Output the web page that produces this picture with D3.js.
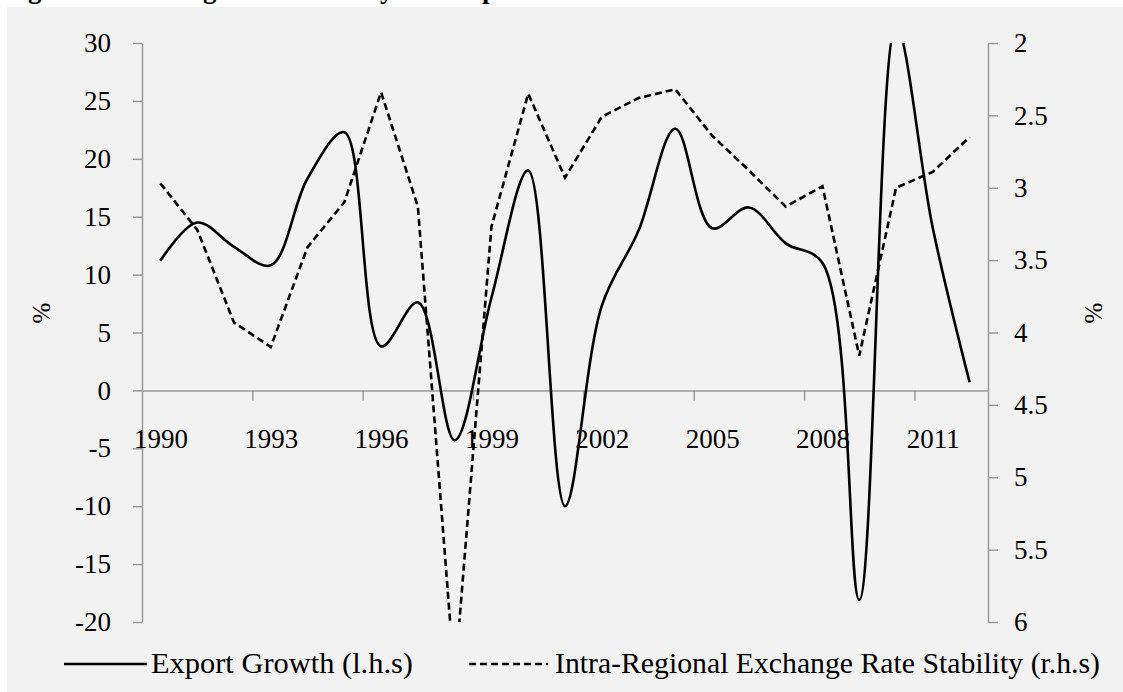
<!DOCTYPE html>
<html>
<head>
<meta charset="utf-8">
<script src="https://cdn.jsdelivr.net/npm/d3@7"></script>
<style>
  body { margin: 0; background: #fff; }
  text { font-family: "Liberation Serif", "Times New Roman", serif; fill: #000; }
</style>
</head>
<body>
<script>
// data
var years = [1990, 1991, 1992, 1993, 1994, 1995, 1996, 1997, 1998, 1999, 2000, 2001,
             2002, 2003, 2004, 2005, 2006, 2007, 2008, 2009, 2010, 2011, 2012];
var exportGrowth = [11.2, 14.5, 12.4, 10.8, 18.3, 22.3, 3.8, 7.6, -4.3, 8.0, 19.0, -10.0,
                    7.3, 13.8, 22.6, 14.0, 15.8, 12.7, 11.0, -18.1, 31.5, 14.0, 0.7];
var stability = [2.97, 3.29, 3.93, 4.10, 3.41, 3.10, 2.34, 3.13, 6.4, 3.27, 2.35, 2.93,
                 2.51, 2.38, 2.32, 2.64, 2.88, 3.13, 2.99, 4.16, 3.00, 2.89, 2.65];
var leftTicks = [-20, -15, -10, -5, 0, 5, 10, 15, 20, 25, 30];
var rightTicks = [2, 2.5, 3, 3.5, 4, 4.5, 5, 5.5, 6];
var labelYears = [1990, 1993, 1996, 1999, 2002, 2005, 2008, 2011];

var width = 1123, height = 692;
var plotLeft = 142, plotRight = 988, plotTop = 43, plotBottom = 622;
var axisColor = "#9a9a9a";

var svg = d3.select("body").append("svg")
  .attr("width", width)
  .attr("height", height);

// title, mostly cut off at the top
svg.append("text")
  .attr("x", 4)
  .attr("y", -2)
  .style("font-size", "27px")
  .style("font-weight", "bold")
  .text("Figure 1: Exchange Rate Stability and Export Growth");

svg.append("rect")
  .attr("x", 7).attr("y", 7)
  .attr("width", width - 7).attr("height", height - 7)
  .attr("fill", "#f2f2f2");

var x = d3.scaleLinear().domain([1989.5, 2012.5]).range([plotLeft, plotRight]);
var yL = d3.scaleLinear().domain([-20, 30]).range([plotBottom, plotTop]);
var yR = d3.scaleLinear().domain([2, 6]).range([plotTop, plotBottom]);

var plain = function(d){ return String(d); };

// left axis
var gL = svg.append("g")
  .attr("transform", "translate(" + plotLeft + ",0)")
  .call(d3.axisLeft(yL).tickValues(leftTicks).tickSize(9).tickSizeOuter(0).tickPadding(22)
        .tickFormat(plain));

// right axis
var gR = svg.append("g")
  .attr("transform", "translate(" + plotRight + ",0)")
  .call(d3.axisRight(yR).tickValues(rightTicks).tickSize(10).tickSizeOuter(0).tickPadding(16)
        .tickFormat(plain));

// x axis at zero: tick marks between categories, labels on categories
var gXt = svg.append("g")
  .attr("transform", "translate(0," + yL(0) + ")")
  .call(d3.axisBottom(x)
        .tickValues(labelYears.slice(1).map(function(d){ return d - 0.5; }))
        .tickSize(10).tickSizeOuter(0).tickFormat(""));

var gXl = svg.append("g")
  .attr("transform", "translate(0," + yL(0) + ")")
  .call(d3.axisBottom(x).tickValues(labelYears).tickSize(0).tickPadding(38)
        .tickFormat(plain));
gXl.select(".domain").remove();

[gL, gR, gXt].forEach(function(g){
  g.select(".domain").attr("stroke", axisColor).attr("stroke-width", 1.5);
  g.selectAll(".tick line").attr("stroke", axisColor).attr("stroke-width", 1.5);
});
[gL, gR, gXl].forEach(function(g){
  g.selectAll("text")
    .style("font-size", "27px")
    .style("font-family", "'Liberation Serif', serif")
    .attr("fill", "#000");
});

// axis titles
svg.append("text")
  .attr("transform", "translate(50,313) rotate(-90)")
  .attr("text-anchor", "middle")
  .style("font-size", "25px")
  .text("%");
svg.append("text")
  .attr("transform", "translate(1102,313) rotate(-90)")
  .attr("text-anchor", "middle")
  .style("font-size", "25px")
  .text("%");

// plot clip
svg.append("clipPath").attr("id", "plot")
  .append("rect")
  .attr("x", plotLeft).attr("y", plotTop)
  .attr("width", plotRight - plotLeft).attr("height", plotBottom - plotTop);

var plot = svg.append("g").attr("clip-path", "url(#plot)");

var solidLine = d3.line()
  .x(function(d, i){ return x(years[i]); })
  .y(function(d){ return yL(d); })
  .curve(d3.curveCatmullRom.alpha(0.5));

var dashLine = d3.line()
  .x(function(d, i){ return x(years[i]); })
  .y(function(d){ return yR(d); });

plot.append("path")
  .datum(stability)
  .attr("d", dashLine)
  .attr("fill", "none")
  .attr("stroke", "#000")
  .attr("stroke-width", 2.6)
  .attr("stroke-dasharray", "7,4");

plot.append("path")
  .datum(exportGrowth)
  .attr("d", solidLine)
  .attr("fill", "none")
  .attr("stroke", "#000")
  .attr("stroke-width", 2.6);

// legend
var legY = 664;
svg.append("line")
  .attr("x1", 64).attr("x2", 147).attr("y1", legY).attr("y2", legY)
  .attr("stroke", "#000").attr("stroke-width", 2.6);
svg.append("text")
  .attr("x", 151).attr("y", legY + 9)
  .style("font-size", "29px")
  .attr("textLength", 262).attr("lengthAdjust", "spacingAndGlyphs")
  .text("Export Growth (l.h.s)");
svg.append("line")
  .attr("x1", 469).attr("x2", 548).attr("y1", legY).attr("y2", legY)
  .attr("stroke", "#000").attr("stroke-width", 2.6)
  .attr("stroke-dasharray", "7,4");
svg.append("text")
  .attr("x", 555).attr("y", legY + 9)
  .style("font-size", "29px")
  .attr("textLength", 545).attr("lengthAdjust", "spacingAndGlyphs")
  .text("Intra-Regional Exchange Rate Stability (r.h.s)");
</script>
</body>
</html>
